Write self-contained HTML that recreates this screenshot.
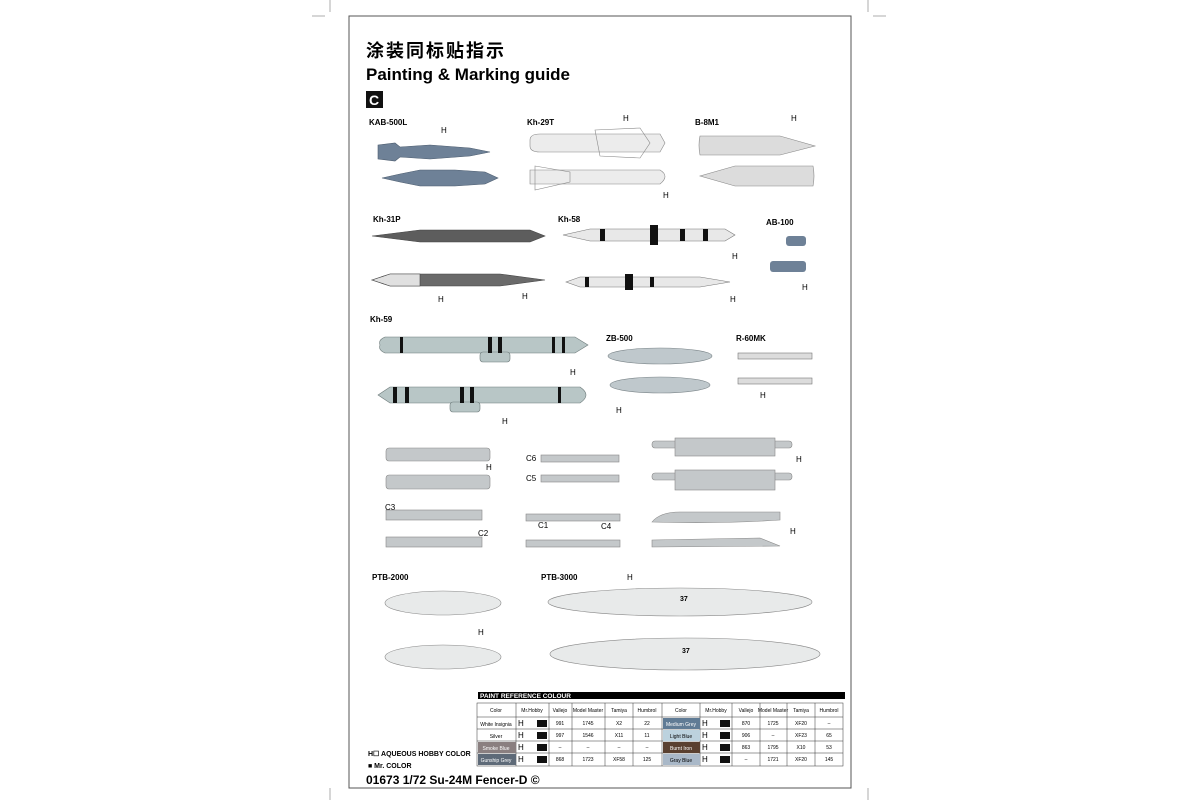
<!DOCTYPE html>
<html><head><meta charset="utf-8"><style>
html,body{margin:0;padding:0;background:#fff;width:1200px;height:800px;overflow:hidden}
svg{display:block}
text{font-family:"Liberation Sans","Noto Sans CJK SC",sans-serif}
</style></head><body>
<svg width="1200" height="800" viewBox="0 0 1200 800" xmlns="http://www.w3.org/2000/svg">
<g stroke="#999" stroke-width="0.8">
<line x1="330" y1="0" x2="330" y2="12"/><line x1="868" y1="0" x2="868" y2="12"/>
<line x1="330" y1="788" x2="330" y2="800"/><line x1="868" y1="788" x2="868" y2="800"/>
<line x1="312" y1="16" x2="325" y2="16"/><line x1="873" y1="16" x2="886" y2="16"/>
</g>
<rect x="349" y="16" width="502" height="772" fill="none" stroke="#555" stroke-width="1"/>
<text x="366" y="57" font-size="18" font-weight="bold" letter-spacing="2">涂装同标贴指示</text>
<text x="366" y="80" font-size="17" font-weight="bold">Painting &amp; Marking guide</text>
<rect x="366" y="91" width="17" height="17" fill="#111"/>
<text x="369" y="105" font-size="14" font-weight="bold" fill="#fff">C</text>

<g font-size="8" font-weight="bold">
<text x="369" y="125">KAB-500L</text><text x="527" y="125">Kh-29T</text><text x="695" y="125">B-8M1</text>
<text x="373" y="222">Kh-31P</text><text x="558" y="222">Kh-58</text><text x="766" y="225">AB-100</text>
<text x="370" y="322">Kh-59</text><text x="606" y="341">ZB-500</text><text x="736" y="341">R-60MK</text>
<text x="372" y="580">PTB-2000</text><text x="541" y="580">PTB-3000</text>
</g>

<!-- KAB -->
<g fill="#6e8197" stroke="#4e5e70" stroke-width="0.6">
<path d="M378 145 L395 143 L400 147 L430 145 L470 148 L490 152 L470 156 L430 159 L400 157 L395 161 L378 159 Z"/>
<path d="M498 178 L485 172 L455 170 L420 170 L400 174 L382 178 L400 182 L420 186 L455 186 L485 184 Z"/>
</g>
<!-- Kh-29T -->
<g fill="#ececec" stroke="#888" stroke-width="0.6">
<path d="M530 140 Q530 134 540 134 L660 134 L665 143 L660 152 L540 152 Q530 152 530 146 Z"/>
<path d="M595 130 L640 128 L650 143 L640 158 L600 156 Z" fill="none"/>
<path d="M530 170 L660 170 Q670 176 660 184 L530 184 Z"/>
<path d="M535 166 L570 172 L570 182 L535 190 Z" fill="none"/>
</g>
<!-- B-8M1 -->
<g fill="#dcdcdc" stroke="#888" stroke-width="0.6">
<path d="M700 136 Q698 145 700 155 L780 155 L815 146 L780 136 Z"/>
<path d="M813 166 Q815 176 813 186 L735 186 L700 176 L735 166 Z"/>
</g>
<!-- Kh-31P -->
<g stroke="#444" stroke-width="0.6">
<path d="M372 236 L420 230 L530 230 L545 236 L530 242 L420 242 Z" fill="#5d5d5d"/>
<path d="M372 280 L390 274 L500 274 L545 280 L500 286 L390 286 Z" fill="#6a6a6a"/>
<path d="M372 280 L390 274 L420 274 L420 286 L390 286 Z" fill="#e0e0e0"/>
</g>
<!-- Kh-58 -->
<g stroke="#777" stroke-width="0.6">
<path d="M563 235 L590 229 L725 229 L735 235 L725 241 L590 241 Z" fill="#e8e8e8"/>
<path d="M566 282 L580 277 L700 277 L730 282 L700 287 L580 287 Z" fill="#e8e8e8"/>
</g>
<g fill="#111"><rect x="600" y="229" width="5" height="12"/><rect x="650" y="225" width="8" height="20"/><rect x="680" y="229" width="5" height="12"/><rect x="703" y="229" width="5" height="12"/>
<rect x="585" y="277" width="4" height="10"/><rect x="625" y="274" width="8" height="16"/><rect x="650" y="277" width="4" height="10"/></g>
<!-- AB-100 -->
<g fill="#6e8197"><rect x="786" y="236" width="20" height="10" rx="3"/><rect x="770" y="261" width="36" height="11" rx="3"/></g>
<!-- Kh-59 -->
<g fill="#b8c6c6" stroke="#6d7a7a" stroke-width="0.6">
<path d="M380 345 Q378 340 385 337 L575 337 L588 345 L575 353 L385 353 Q378 350 380 345 Z"/>
<rect x="480" y="352" width="30" height="10" rx="3"/>
<path d="M378 395 L390 387 L580 387 Q592 395 580 403 L390 403 Z"/>
<rect x="450" y="402" width="30" height="10" rx="3"/>
</g>
<g fill="#111"><rect x="400" y="337" width="3" height="16"/><rect x="488" y="337" width="4" height="16"/><rect x="498" y="337" width="4" height="16"/><rect x="552" y="337" width="3" height="16"/><rect x="562" y="337" width="3" height="16"/>
<rect x="393" y="387" width="4" height="16"/><rect x="405" y="387" width="4" height="16"/><rect x="460" y="387" width="4" height="16"/><rect x="470" y="387" width="4" height="16"/><rect x="558" y="387" width="3" height="16"/></g>
<!-- ZB-500 -->
<g fill="#bfc8cc" stroke="#7a8488" stroke-width="0.6">
<ellipse cx="660" cy="356" rx="52" ry="8"/><ellipse cx="660" cy="385" rx="50" ry="8"/>
</g>
<!-- R-60 -->
<g fill="#dcdcdc" stroke="#777" stroke-width="0.6"><rect x="738" y="353" width="74" height="6"/><rect x="738" y="378" width="74" height="6"/></g>
<!-- pylons -->
<g fill="#c4c8ca" stroke="#888" stroke-width="0.6">
<rect x="386" y="448" width="104" height="13" rx="3"/><rect x="386" y="475" width="104" height="14" rx="3"/>
<rect x="386" y="510" width="96" height="10"/><rect x="386" y="537" width="96" height="10"/>
<rect x="541" y="455" width="78" height="7"/><rect x="541" y="475" width="78" height="7"/>
<rect x="526" y="514" width="94" height="7"/><rect x="526" y="540" width="94" height="7"/>
<rect x="652" y="441" width="140" height="7" rx="3"/><rect x="675" y="438" width="100" height="18"/>
<rect x="652" y="473" width="140" height="7" rx="3"/><rect x="675" y="470" width="100" height="20"/>
<path d="M652 522 Q660 512 680 512 L780 512 L780 520 Q720 524 652 522 Z"/>
<path d="M652 540 L760 538 L780 546 L652 547 Z"/>
</g>
<g font-size="8"><text x="526" y="461">C6</text><text x="526" y="481">C5</text><text x="385" y="510">C3</text><text x="478" y="536">C2</text><text x="538" y="528">C1</text><text x="601" y="529">C4</text></g>
<!-- PTB -->
<g fill="#e8eaea" stroke="#888" stroke-width="0.6">
<ellipse cx="443" cy="603" rx="58" ry="12"/><ellipse cx="443" cy="657" rx="58" ry="12"/>
<ellipse cx="680" cy="602" rx="132" ry="14"/><ellipse cx="685" cy="654" rx="135" ry="16"/>
</g>
<g font-size="7" font-weight="bold"><text x="680" y="601">37</text><text x="682" y="653">37</text></g>

<!-- H labels -->
<g font-size="8">
<text x="441" y="133">H</text><text x="663" y="198">H</text><text x="623" y="121">H</text><text x="791" y="121">H</text>
<text x="438" y="302">H</text><text x="522" y="299">H</text><text x="732" y="259">H</text><text x="730" y="302">H</text>
<text x="802" y="290">H</text><text x="570" y="375">H</text><text x="502" y="424">H</text><text x="616" y="413">H</text>
<text x="760" y="398">H</text><text x="486" y="470">H</text><text x="796" y="462">H</text><text x="790" y="534">H</text>
<text x="627" y="580">H</text><text x="478" y="635">H</text>
</g>

<!-- table -->
<rect x="478" y="692" width="367" height="7" fill="#000"/>
<text x="480" y="698" font-size="6.5" font-weight="bold" fill="#fff">PAINT  REFERENCE COLOUR</text>
<g stroke="#333" stroke-width="0.5" fill="none">
<rect x="477" y="703" width="366" height="63"/>
<line x1="477" y1="717" x2="843" y2="717"/><line x1="477" y1="729" x2="843" y2="729"/><line x1="477" y1="741" x2="843" y2="741"/><line x1="477" y1="753" x2="843" y2="753"/>
<line x1="516" y1="703" x2="516" y2="766"/><line x1="549" y1="703" x2="549" y2="766"/><line x1="572" y1="703" x2="572" y2="766"/><line x1="605" y1="703" x2="605" y2="766"/><line x1="633" y1="703" x2="633" y2="766"/><line x1="662" y1="703" x2="662" y2="766"/><line x1="700" y1="703" x2="700" y2="766"/><line x1="732" y1="703" x2="732" y2="766"/><line x1="760" y1="703" x2="760" y2="766"/><line x1="787" y1="703" x2="787" y2="766"/><line x1="815" y1="703" x2="815" y2="766"/>
</g>
<rect x="478" y="742" width="38" height="11" fill="#8a7f80"/><rect x="478" y="754" width="38" height="11" fill="#5e6a78"/>
<rect x="663" y="718" width="37" height="11" fill="#607b95"/><rect x="663" y="730" width="37" height="11" fill="#bcd2de"/>
<rect x="663" y="742" width="37" height="11" fill="#5a4030"/><rect x="663" y="754" width="37" height="11" fill="#a9b8c8"/>
<g font-size="5" text-anchor="middle">
<text x="496" y="712">Color</text><text x="532" y="712">Mr.Hobby</text><text x="560" y="712">Vallejo</text><text x="588" y="712">Model Master</text><text x="619" y="712">Tamiya</text><text x="647" y="712">Humbrol</text>
<text x="681" y="712">Color</text><text x="716" y="712">Mr.Hobby</text><text x="746" y="712">Vallejo</text><text x="773" y="712">Model Master</text><text x="801" y="712">Tamiya</text><text x="829" y="712">Humbrol</text>
<text x="496" y="726">White Insignia</text><text x="496" y="738">Silver</text><text x="496" y="750" fill="#fff">Smoke Blue</text><text x="496" y="762" fill="#fff">Gunship Grey</text>
<text x="681" y="726" fill="#fff">Medium Grey</text><text x="681" y="738">Light Blue</text><text x="681" y="750" fill="#fff">Burnt Iron</text><text x="681" y="762">Gray Blue</text>
<text x="560" y="725">991</text><text x="588" y="725">1745</text><text x="619" y="725">X2</text><text x="647" y="725">22</text>
<text x="560" y="737">997</text><text x="588" y="737">1546</text><text x="619" y="737">X11</text><text x="647" y="737">11</text>
<text x="560" y="749">–</text><text x="588" y="749">–</text><text x="619" y="749">–</text><text x="647" y="749">–</text>
<text x="560" y="761">868</text><text x="588" y="761">1723</text><text x="619" y="761">XF58</text><text x="647" y="761">125</text>
<text x="746" y="725">870</text><text x="773" y="725">1725</text><text x="801" y="725">XF20</text><text x="829" y="725">–</text>
<text x="746" y="737">906</text><text x="773" y="737">–</text><text x="801" y="737">XF23</text><text x="829" y="737">65</text>
<text x="746" y="749">863</text><text x="773" y="749">1795</text><text x="801" y="749">X10</text><text x="829" y="749">53</text>
<text x="746" y="761">–</text><text x="773" y="761">1721</text><text x="801" y="761">XF20</text><text x="829" y="761">145</text>
</g>
<g font-size="8"><text x="518" y="726">H</text><text x="518" y="738">H</text><text x="518" y="750">H</text><text x="518" y="762">H</text>
<text x="702" y="726">H</text><text x="702" y="738">H</text><text x="702" y="750">H</text><text x="702" y="762">H</text></g>
<g fill="#111"><rect x="537" y="720" width="10" height="7"/><rect x="537" y="732" width="10" height="7"/><rect x="537" y="744" width="10" height="7"/><rect x="537" y="756" width="10" height="7"/>
<rect x="720" y="720" width="10" height="7"/><rect x="720" y="732" width="10" height="7"/><rect x="720" y="744" width="10" height="7"/><rect x="720" y="756" width="10" height="7"/></g>

<g font-size="7" font-weight="bold"><text x="368" y="756">H☐  AQUEOUS HOBBY COLOR</text><text x="368" y="768">■  Mr. COLOR</text></g>
<text x="366" y="784" font-size="12" font-weight="bold">01673  1/72 Su-24M Fencer-D  ©</text>
</svg>
</body></html>
